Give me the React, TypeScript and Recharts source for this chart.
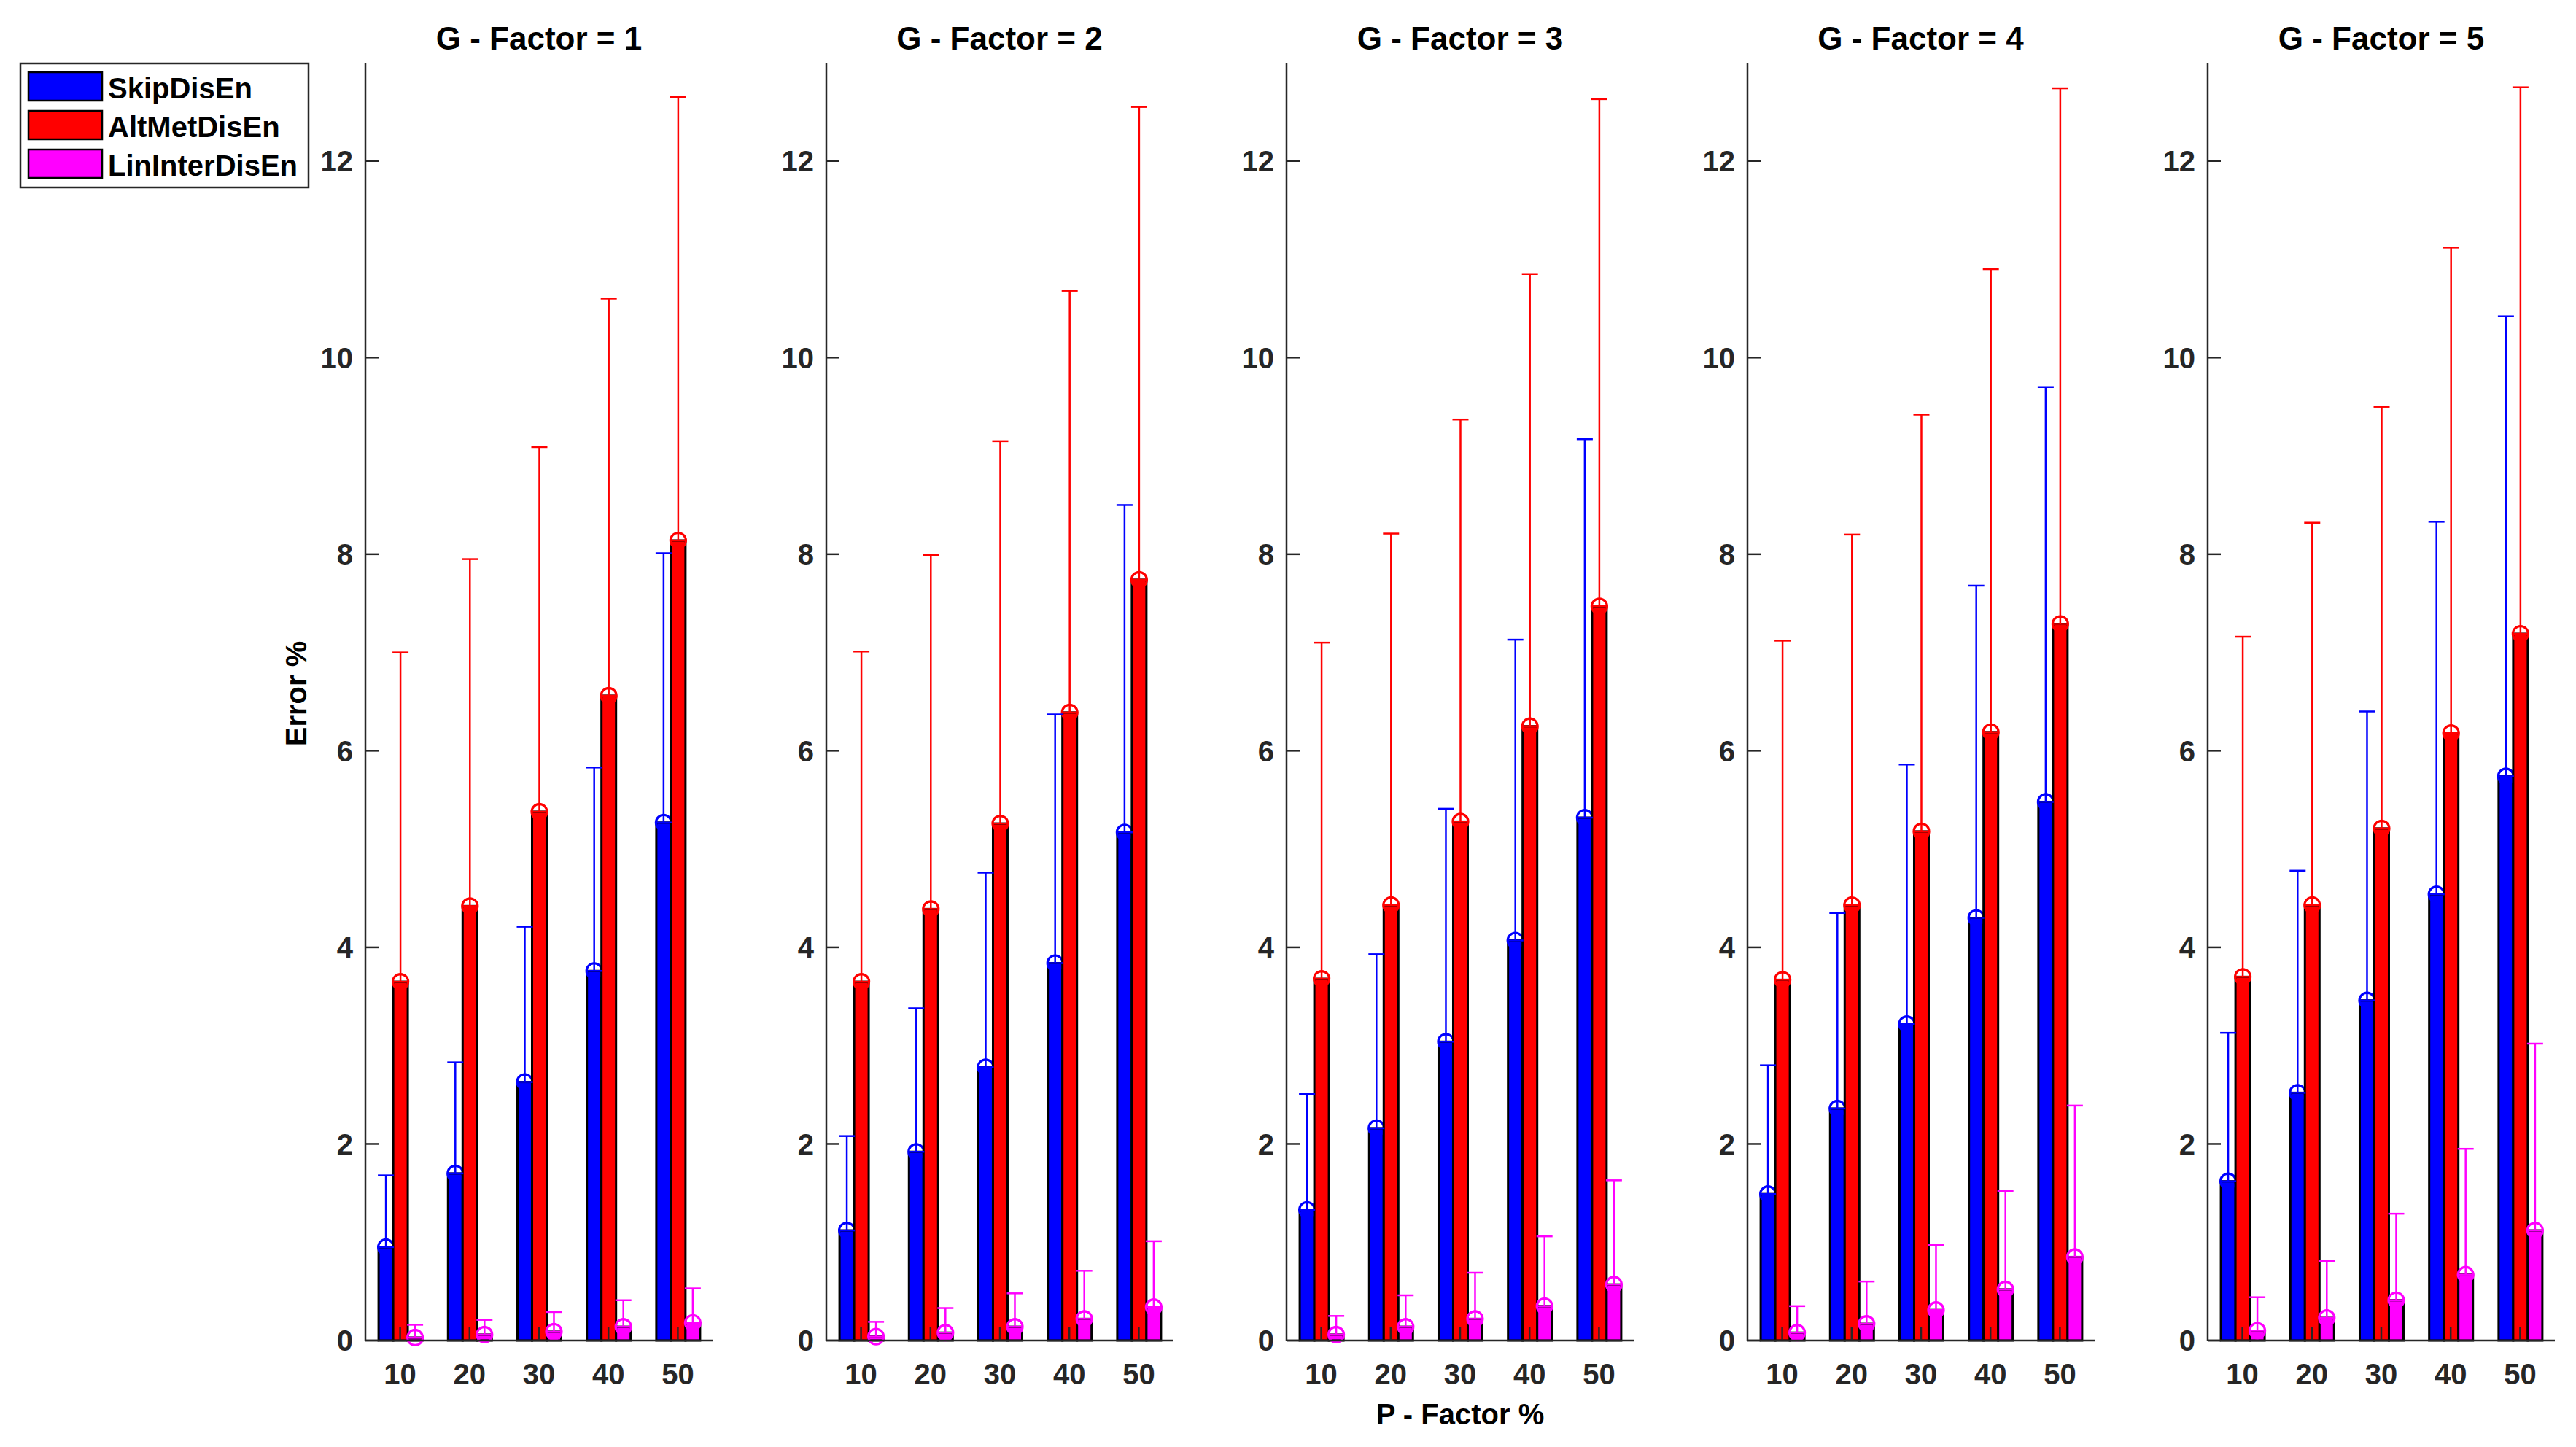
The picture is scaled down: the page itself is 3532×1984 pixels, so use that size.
import React from 'react';
import { BarChart, Bar, XAxis, YAxis, ErrorBar } from 'recharts';

// ---------------- DATA ----------------
const pFactors = ['10', '20', '30', '40', '50'];
const gFactors = [1, 2, 3, 4, 5];
const seriesNames = ['SkipDisEn', 'AltMetDisEn', 'LinInterDisEn'];
const yTicks = [0, 2, 4, 6, 8, 10, 12];

// mean values, one row per G-Factor
const skipMean = [
  [0.95, 1.70, 2.63, 3.76, 5.27],
  [1.12, 1.92, 2.78, 3.84, 5.17],
  [1.33, 2.16, 3.04, 4.07, 5.32],
  [1.49, 2.36, 3.22, 4.30, 5.48],
  [1.62, 2.52, 3.46, 4.54, 5.74],
];
// upper end of the error bar
const skipUpper = [
  [1.68, 2.83, 4.21, 5.83, 8.01],
  [2.08, 3.38, 4.76, 6.37, 8.50],
  [2.51, 3.93, 5.41, 7.13, 9.17],
  [2.80, 4.35, 5.86, 7.68, 9.70],
  [3.13, 4.78, 6.40, 8.33, 10.42],
];
const altMean = [
  [3.65, 4.42, 5.38, 6.56, 8.14],
  [3.65, 4.39, 5.26, 6.39, 7.74],
  [3.68, 4.43, 5.28, 6.25, 7.47],
  [3.67, 4.43, 5.18, 6.19, 7.29],
  [3.70, 4.43, 5.21, 6.18, 7.19],
];
const altUpper = [
  [7.00, 7.95, 9.09, 10.60, 12.65],
  [7.01, 7.99, 9.15, 10.68, 12.55],
  [7.10, 8.21, 9.37, 10.85, 12.63],
  [7.12, 8.20, 9.42, 10.90, 12.74],
  [7.16, 8.32, 9.50, 11.12, 12.75],
];
const linMean = [
  [0.03, 0.06, 0.09, 0.14, 0.18],
  [0.04, 0.08, 0.14, 0.22, 0.34],
  [0.06, 0.14, 0.22, 0.35, 0.57],
  [0.08, 0.17, 0.31, 0.52, 0.85],
  [0.10, 0.23, 0.41, 0.67, 1.12],
];
const linUpper = [
  [0.16, 0.21, 0.29, 0.41, 0.53],
  [0.19, 0.33, 0.48, 0.71, 1.01],
  [0.25, 0.46, 0.69, 1.06, 1.63],
  [0.35, 0.60, 0.97, 1.52, 2.39],
  [0.44, 0.81, 1.29, 1.95, 3.02],
];

// ---------------- STYLE / LAYOUT ----------------
const COLORS = ['#0000ff', '#ff0000', '#ff00ff'];
const FONT = '"Liberation Sans", Arial, Helvetica, sans-serif';
const AXIS_COLOR = '#262626';
const PLOT_TOP = 86;
const PLOT_H = 1752;
const PLOT_W = 476;
const FIRST_AXIS_X = 501;
const PANEL_STEP = 631.5;
const YAXIS_W = 110;
const XAXIS_H = 100;
const RIGHT_M = 20;
const CAP_W = 11;

const buildRows = (g: number) =>
  pFactors.map((p, j) => ({
    p,
    skip: skipMean[g][j],
    skipErr: [0, +(skipUpper[g][j] - skipMean[g][j]).toFixed(3)],
    alt: altMean[g][j],
    altErr: [0, +(altUpper[g][j] - altMean[g][j]).toFixed(3)],
    lin: linMean[g][j],
    linErr: [0, +(linUpper[g][j] - linMean[g][j]).toFixed(3)],
  }));

const MarkerBar = (props: any) => {
  const { x, y, width, height, fill } = props;
  if (x == null || y == null) return null;
  return (
    <g>
      <rect x={x} y={y} width={width} height={Math.max(height, 0)} fill={fill} stroke="#000" strokeWidth={3} />
      <circle cx={x + width / 2} cy={y} r={10.5} fill="none" stroke={fill} strokeWidth={3.2} />
    </g>
  );
};

const YTick = (props: any) => {
  const { x, y, payload } = props;
  return (
    <g>
      <line x1={x} x2={x + 18} y1={y} y2={y} stroke={AXIS_COLOR} strokeWidth={2.5} />
      <text x={x - 17} y={y} dy="0.36em" textAnchor="end" fontSize={40} fontWeight="bold" fill={AXIS_COLOR} fontFamily={FONT}>
        {payload.value}
      </text>
    </g>
  );
};

const XTick = (props: any) => {
  const { x, y, payload } = props;
  return (
    <g>
      <line x1={x} x2={x} y1={y} y2={y - 18} stroke={AXIS_COLOR} strokeWidth={2.5} />
      <text x={x} y={y + 60} textAnchor="middle" fontSize={40} fontWeight="bold" fill={AXIS_COLOR} fontFamily={FONT}>
        {payload.value}
      </text>
    </g>
  );
};

const Panel = ({ g }: { g: number }) => {
  const rows = buildRows(g);
  const axisX = FIRST_AXIS_X + PANEL_STEP * g;
  return (
    <div style={{ position: 'absolute', left: axisX - YAXIS_W, top: PLOT_TOP }}>
      <BarChart
        width={YAXIS_W + PLOT_W + RIGHT_M}
        height={PLOT_H + XAXIS_H}
        data={rows}
        margin={{ top: 0, right: RIGHT_M, left: 0, bottom: 0 }}
        barCategoryGap="19%"
        barGap={0}
      >
        <Bar dataKey="skip" fill={COLORS[0]} shape={MarkerBar} isAnimationActive={false}>
          <ErrorBar dataKey="skipErr" direction="y" width={CAP_W} stroke={COLORS[0]} strokeWidth={2.5} isAnimationActive={false} />
        </Bar>
        <Bar dataKey="alt" fill={COLORS[1]} shape={MarkerBar} isAnimationActive={false}>
          <ErrorBar dataKey="altErr" direction="y" width={CAP_W} stroke={COLORS[1]} strokeWidth={2.5} isAnimationActive={false} />
        </Bar>
        <Bar dataKey="lin" fill={COLORS[2]} shape={MarkerBar} isAnimationActive={false}>
          <ErrorBar dataKey="linErr" direction="y" width={CAP_W} stroke={COLORS[2]} strokeWidth={2.5} isAnimationActive={false} />
        </Bar>
        <XAxis
          dataKey="p"
          type="category"
          height={XAXIS_H}
          tickSize={0}
          tickMargin={0}
          tickLine={false}
          axisLine={{ stroke: AXIS_COLOR, strokeWidth: 2.5 }}
          tick={XTick}
          interval={0}
        />
        <YAxis
          type="number"
          domain={[0, 13]}
          ticks={yTicks}
          width={YAXIS_W}
          tickSize={0}
          tickMargin={0}
          tickLine={false}
          axisLine={{ stroke: AXIS_COLOR, strokeWidth: 2.5 }}
          tick={YTick}
          interval={0}
        />
      </BarChart>
    </div>
  );
};

const Overlay = () => {
  const rowsY = [99, 152, 205];
  return (
    <svg
      width={3532}
      height={1984}
      style={{ position: 'absolute', left: 0, top: 0, pointerEvents: 'none' }}
      fontFamily={FONT}
    >
      {gFactors.map((gv, i) => (
        <text
          key={gv}
          x={FIRST_AXIS_X + PANEL_STEP * i + PLOT_W / 2}
          y={68}
          textAnchor="middle"
          fontSize={44}
          fontWeight="bold"
          fill="#000"
        >
          {`G - Factor = ${gv}`}
        </text>
      ))}
      <text
        x={406}
        y={951}
        dy="0.36em"
        textAnchor="middle"
        fontSize={40}
        fontWeight="bold"
        fill="#000"
        transform="rotate(-90 406 951)"
      >
        Error %
      </text>
      <text x={FIRST_AXIS_X + PANEL_STEP * 2 + PLOT_W / 2} y={1953} textAnchor="middle" fontSize={40} fontWeight="bold" fill="#000">
        P - Factor %
      </text>
      <rect x={28} y={87} width={395} height={170} fill="#fff" stroke={AXIS_COLOR} strokeWidth={2.5} />
      {seriesNames.map((n, i) => (
        <g key={n}>
          <rect x={39} y={rowsY[i]} width={101} height={39} fill={COLORS[i]} stroke="#000" strokeWidth={2.5} />
          <text x={148} y={rowsY[i] + 36} fontSize={40} fontWeight="bold" fill="#000">
            {n}
          </text>
        </g>
      ))}
    </svg>
  );
};

export default function App() {
  return (
    <div style={{ position: 'absolute', left: 0, top: 0, width: 3532, height: 1984, background: '#fff', fontFamily: FONT }}>
      {gFactors.map((gv, i) => (
        <Panel key={gv} g={i} />
      ))}
      <Overlay />
    </div>
  );
}
